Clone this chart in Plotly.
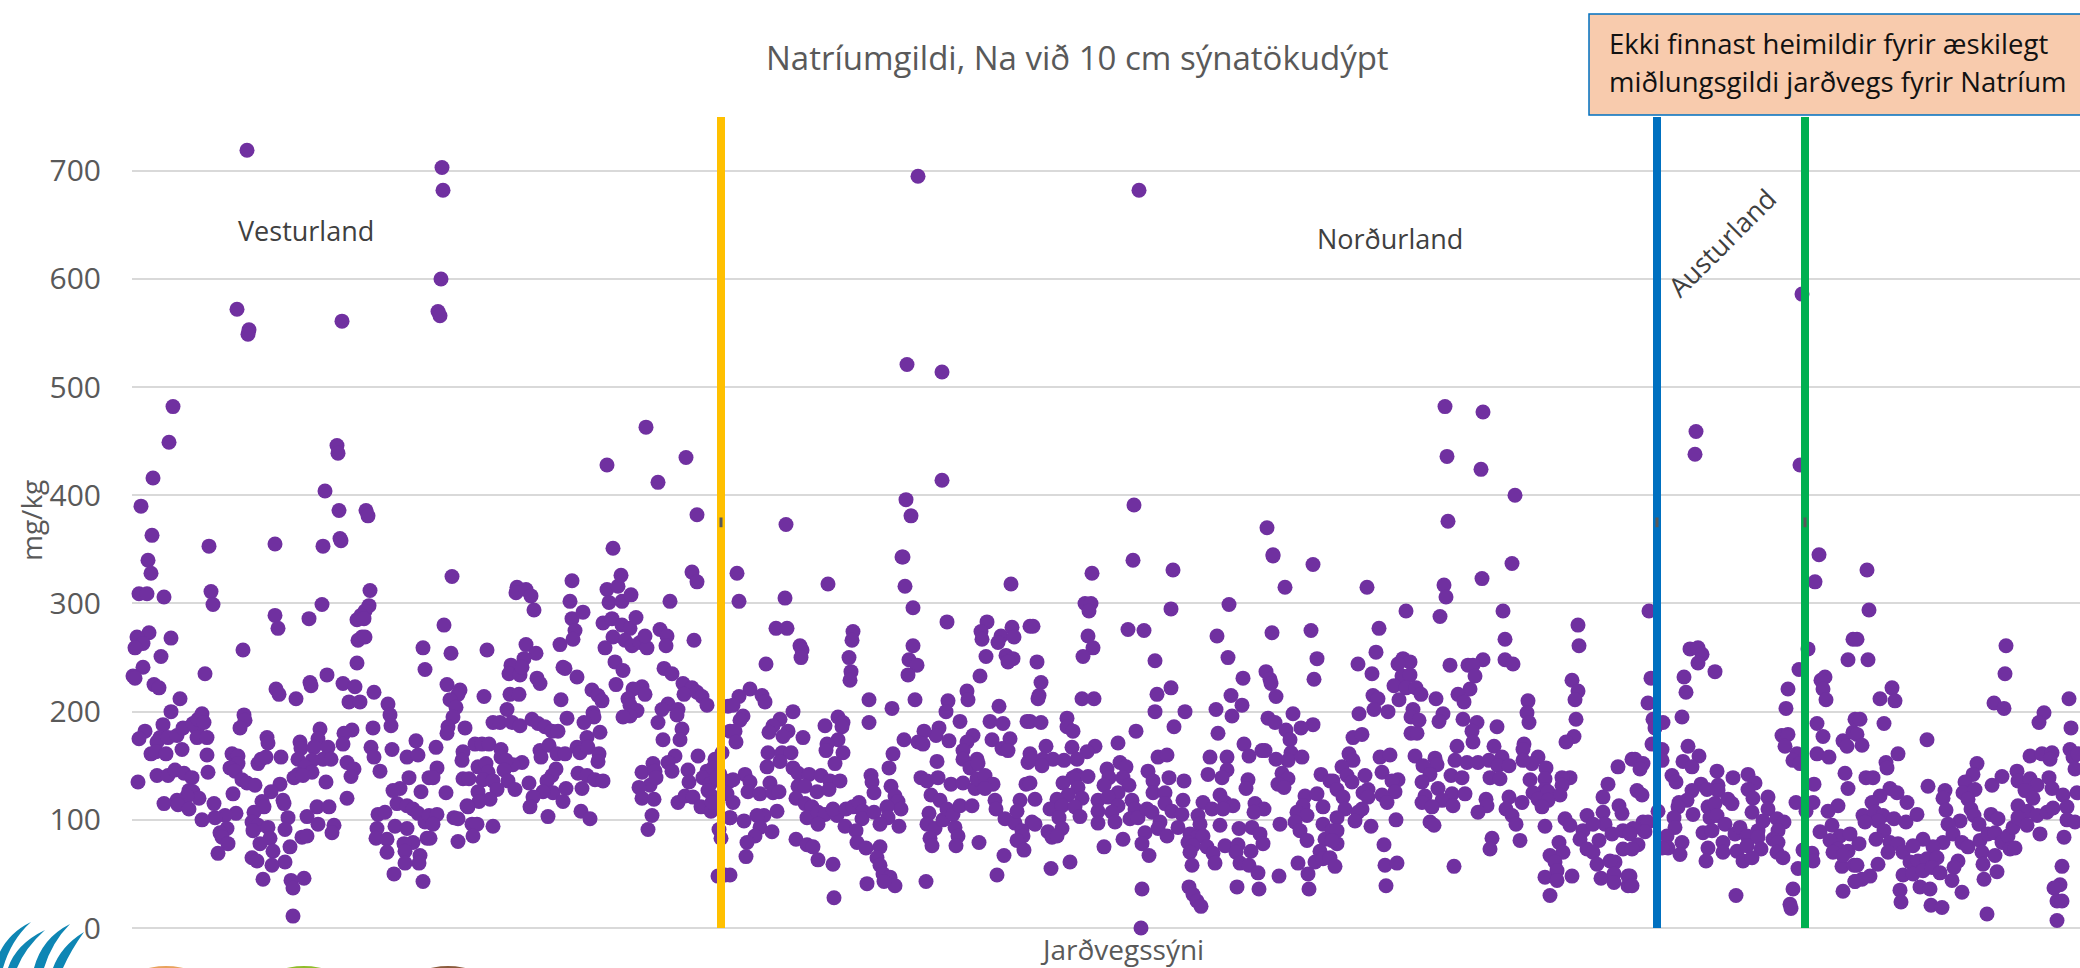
import plotly.graph_objects as go

chart_title = "Natríumgildi, Na við 10 cm sýnatökudýpt"
y_title = "mg/kg"
x_title = "Jarðvegssýni"
y_ticks = [0, 100, 200, 300, 400, 500, 600, 700]

# (sample position, Na mg/kg)
high_values = [(115,719),(310,703),(311,682),(309,600),(306,570),(308,566),(105,572),(117,553),(116,549),(210,561),
(41,482),(37,449),(21,416),(9,390),(20,363),(205,446),(206,439),(193,404),(207,386),(234,386),(236,381),(208,360),
(514,463),(526,412),(475,428),(554,435),(565,382),(320,325),
(786,695),(1007,682),(775,521),(810,514),(810,414),(774,396),(779,381),(654,373),(1002,391),(770,343),(1135,370),(1141,345),
(1313,482),(1351,477),(1315,436),(1349,424),(1316,376),(1383,400),(1564,459),(1563,438),(1670,586),(1668,428),(1380,337),(1350,323),(1312,317),(1314,306),(1308,288),(1274,293)]

panel_a = [(77,353),(143,355),(191,353),(209,358),(16,340),(19,328),(7,309),(15,309),(32,306),(79,311),(81,299),(238,312),(237,298),(233,293),(229,289),(225,285),(232,286),(190,299),(177,286),(143,289),(146,277),
(17,273),(5,269),(11,263),(3,259),(39,268),(29,251),(111,257),(11,241),(1,233),(3,231),(73,235),(22,225),(27,222),(230,269),(226,266),(233,269),(291,259),(293,239),(225,245),
(48,212),(39,200),(31,188),(13,182),(7,175),(28,176),(25,172),(36,176),(45,178),(51,185),(65,184),(61,189),(66,193),(70,198),(72,190),(65,176),(75,176),
(195,234),(211,226),(223,223),(178,227),(179,224),(144,221),(147,216),(164,212),(242,218),(217,209),(228,209),(256,207),(258,197),(259,187),
(112,197),(113,192),(108,185),(135,176),(136,171),(168,172),(169,166),(188,184),(186,175),(182,167),(196,167),(241,185),(220,183),(212,180),(211,170),(284,173),(260,165),(239,167),(242,158),(275,158),(286,160),
(19,161),(24,163),(34,161),(50,165),(75,160),(100,161),(106,159),(106,152),(98,148),(103,145),(126,152),(129,156),(134,158),(149,158),(166,156),(191,156),(199,156),(180,155),(173,149),(166,142),(180,144),(162,139),(171,141),(215,153),(222,147),(219,140),(248,145),
(6,135),(25,141),(36,141),(43,146),(52,143),(60,139),(76,144),(110,137),(115,134),(123,132),(148,133),(139,126),(194,135),(277,139),(297,139),(289,126),(268,129),(261,127),
(57,127),(61,126),(67,120),(55,122),(101,124),(130,117),(132,112),(151,118),(152,115),(215,120),(45,118),(32,115),(46,114),(57,110),(82,115),(265,115),(275,113),(281,110),(286,106),(246,105),(253,107),
(185,112),(197,112),(175,103),(156,102),(122,107),(104,106),(93,104),(83,102),(70,100),(120,98),(126,95),(136,93),(153,91),(186,96),(202,95),(200,88),(293,98),(297,104),
(95,92),(88,88),(90,84),(121,90),(138,83),(128,78),(96,78),(170,84),(175,85),(158,75),(141,71),(245,92),(244,83),(255,82),(263,94),(275,92),(281,79),(272,78),(273,71),(295,83),(255,70),(288,67),(287,60),(273,60),
(86,69),(120,65),(125,62),(153,61),(140,58),(262,50),(131,45),(172,46),(159,44),(161,37),(291,43),(161,11)]

panel_b = [(385,315),(384,310),(394,313),(399,307),(402,294),(440,321),(438,302),(440,286),(451,292),(443,275),(441,267),(428,262),(475,313),(486,316),(489,326),(481,351),(477,301),(490,302),(499,308),(538,302),(560,329),(565,320),
(312,280),(319,254),(355,257),(394,262),(404,254),(392,249),(379,243),(377,235),(388,234),(390,241),(471,282),(480,286),(490,280),(498,277),(504,287),(481,269),(493,266),(500,261),(508,264),(515,259),(513,270),(473,259),(528,276),(535,270),(534,261),(562,266),
(431,241),(433,240),(445,232),(483,246),(491,238),(532,240),(540,235),(484,225),(315,225),(405,231),(408,226),(328,220),(326,216),(318,211),(324,204),(321,195),(316,186),(315,180),(352,214),(378,216),(387,216),(429,211),(375,202),
(460,220),(466,215),(470,210),(510,223),(501,221),(513,216),(496,212),(498,206),(505,201),(498,196),(491,195),(461,199),(462,195),(452,190),(468,181),(435,194),(551,226),(560,222),(552,216),(565,218),(570,214),(575,206),(536,207),(530,202),(546,202),(545,197),(526,190),(550,184),(548,174),(531,174),
(361,190),(368,190),(380,190),(388,187),(400,193),(406,189),(413,186),(420,182),(426,182),(333,185),(304,167),(331,163),(343,170),(350,170),(357,170),(369,165),(369,158),(390,153),(381,151),(374,155),(408,164),(409,158),(417,169),(425,161),(433,161),(445,167),(448,162),(455,176),(456,167),(467,161),(466,154),
(330,155),(305,148),(301,139),(346,149),(354,152),(356,144),(351,137),(331,138),(337,138),(372,146),(424,147),(420,141),(415,136),(446,143),(455,141),(463,137),(471,136),(361,136),(376,136),(397,134),(383,128),(365,128),(346,126),(358,119),(347,117),(314,125),(421,125),(411,126),(401,121),(434,129),(450,129),(431,117),(398,112),
(336,112),(335,113),(305,105),(416,103),(449,108),(458,101),(322,102),(326,101),(340,96),(345,96),(361,94),(301,96),(341,85),(326,80),(298,83),(566,159),(543,159),(536,153),(521,152),(510,144),(523,145),(540,145),(556,146),(518,132),(507,130),(524,139),(557,135),(510,120),(522,119),(546,116),(553,122),(561,121),(569,112),(579,108),(520,104),(516,91),
(575,145),(571,139),(578,133),(583,156),(590,162),(581,148),(576,127),(581,121),(588,142),(585,139),(598,136),(595,124),(580,116),(587,91),(589,83),(586,48),(593,49),(596,205),(598,182),(598,102)]

panel_c = [(605,328),(607,302),(653,305),(696,318),(771,343),(773,316),(781,296),(879,318),(644,277),(655,277),(668,261),(670,257),(669,250),(634,244),(721,274),(720,266),(717,250),(719,237),(718,229),(781,261),(777,248),(785,243),(776,234),(815,283),
(855,283),(849,274),(850,267),(869,270),(866,264),(880,278),(882,269),(898,279),(854,251),(874,252),(881,249),(876,246),(848,233),(618,221),(607,214),(601,206),(630,215),(633,209),(611,196),(608,192),(603,182),(604,172),
(661,200),(648,193),(641,187),(637,181),(656,182),(651,177),(671,176),(693,187),(706,195),(711,190),(710,186),(706,174),(695,170),(694,164),(711,162),(737,211),(737,190),(760,203),(783,211),(772,174),(761,161),(757,148),
(816,210),(814,200),(835,219),(836,211),(828,191),(807,185),(804,178),(792,182),(786,172),(791,170),(817,173),(805,154),(867,205),(858,191),(871,189),(860,174),(878,175),(841,178),(835,172),(831,164),(870,166),(876,164),(895,191),
(636,162),(650,162),(659,162),(648,154),(635,149),(661,148),(666,143),(677,142),(689,141),(703,152),(845,156),(831,156),(838,148),(846,152),(898,161),(896,153),(613,142),(601,137),(618,135),(638,134),(616,126),(628,124),(641,125),(647,126),(666,131),(673,131),(685,126),(698,136),(708,136),(697,128),(664,120),
(739,141),(740,135),(742,125),(759,131),(763,122),(766,117),(769,110),(789,139),(795,136),(806,139),(819,133),(831,134),(843,129),(845,138),(853,141),(861,133),(853,129),(894,133),(799,123),(808,118),
(601,116),(598,102),(645,108),(632,104),(625,104),(612,99),(628,93),(623,85),(615,79),(640,89),(614,66),(673,115),(680,112),(675,102),(686,107),(693,105),(686,96),(705,104),(701,110),(714,110),(721,112),(727,116),(731,108),(730,101),(742,107),(755,112),(756,102),(748,96),(713,94),(724,90),(767,94),
(725,79),(734,74),(748,75),(745,65),(748,58),(751,50),(758,47),(763,39),(752,43),(735,41),(794,43),(664,82),(675,77),(681,75),(686,63),(701,59),(702,28),(797,106),(795,96),(803,92),(798,83),(800,76),(811,100),(815,110),(821,105),(828,113),(840,113),(823,93),(826,85),(824,76),(847,79),
(863,118),(864,110),(873,101),(883,97),(888,118),(885,108),(900,98),(890,90),(891,85),(885,81),(892,72),(872,67),(865,49),(598,49)]

panel_d = [(960,328),(1001,340),(1041,331),(1141,344),(1181,336),(1153,315),(953,300),(959,300),(957,293),(1039,295),(1097,299),(901,279),(956,270),(961,259),(951,251),(996,276),(1012,275),(1085,270),(1140,273),(1179,275),(1096,250),(1185,249),
(905,246),(909,227),(907,215),(906,212),(950,212),(962,212),(1023,247),(1182,230),(1134,237),(1138,230),(1139,226),(1144,214),(1111,231),(1099,215),(1110,206),(1100,196),(1084,202),(1025,216),(1039,222),(1023,200),(1053,200),(1042,186),(1004,182),(1086,180),(1161,198),(1136,194),(1143,190),(1181,188),(1169,185),(1154,183),(1158,174),
(898,191),(909,190),(935,194),(935,186),(941,182),(986,171),(914,168),(940,167),(963,168),(955,163),(945,156),(900,156),(911,156),(921,156),(932,155),(910,150),(1026,158),(1035,160),(1078,158),(1095,158),(1112,170),(1117,159),(1130,164),(1133,164),(1144,156),(1159,162),(1156,155),(1170,158),
(988,153),(994,149),(975,147),(1016,145),(945,141),(956,140),(941,139),(931,134),(977,139),(991,139),(1037,139),(1052,136),(1076,142),(1095,146),(1090,139),(1116,137),(1114,129),(1150,143),(1156,138),(1146,133),(1152,130),(1189,142),(1198,136),(1021,136),(1021,125),
(898,134),(972,132),(997,132),(946,130),(986,125),(936,123),(925,119),(918,110),(950,120),(903,119),(930,113),(943,112),(948,103),(966,118),(976,121),(986,113),(966,108),(980,107),(966,97),(983,98),(1000,118),(1003,110),(998,101),(1006,102),(1015,110),(1020,107),(1033,125),(1033,115),(1051,118),(1040,108),(1050,105),
(927,102),(903,96),(930,92),(916,89),(920,84),(925,85),(1028,98),(1026,92),(1035,85),(1046,93),(1013,88),(1010,78),(991,82),(972,75),(1071,116),(1080,110),(1066,104),(1088,123),(1093,116),(1101,113),(1091,110),(1123,115),(1132,110),(1122,107),(1173,122),(1185,124),(1171,113),(1165,107),(1175,104),(1191,112),(1163,98),(1148,96),(1191,96),
(1068,96),(1058,87),(1065,84),(1071,85),(1056,79),(1061,76),(1075,75),(1058,70),(1081,69),(1088,95),(1107,92),(1120,93),(1128,87),(1131,78),(1093,76),(1106,77),(1104,70),(1119,71),(1108,60),(1117,58),(1126,51),(1083,60),(1060,58),
(1168,90),(1175,81),(1193,82),(1188,71),(1183,61),(1191,64),(1166,60),(1176,50),(1147,48),(1177,36),(1127,36),(1105,38),(1017,67),(1010,36),(1009,0),(938,61),(919,55),(1057,38),(1061,31),(1065,25),(1069,20)]

panel_e = [(1235,315),(1371,293),(1373,267),(1247,277),(1244,255),(1226,244),(1240,235),(1446,280),(1447,261),(1440,229),(1446,219),(1443,211),(1444,193),(1442,177),(1434,172),(1373,248),(1381,244),(1351,248),(1336,243),(1341,243),(1318,243),(1271,249),(1278,246),(1266,244),(1270,233),(1278,234),(1343,233),(1338,221),(1326,216),(1332,209),(1304,212),(1262,224),(1274,222),(1284,222),(1289,216),(1267,211),(1241,215),(1246,212),(1242,202),(1256,200),(1227,198),(1281,202),(1279,195),(1287,192),(1311,198),(1307,191),(1331,193),(1345,190),(1340,182),(1365,186),(1341,172),(1396,210),(1395,199),(1397,190),(1279,180),(1285,180),(1221,176),(1230,179),
(1392,170),(1391,165),(1362,168),(1325,168),(1406,158),(1400,152),(1391,155),(1323,155),(1335,153),(1346,153),(1357,155),(1370,158),(1366,150),(1377,150),(1217,161),(1221,155),(1248,158),(1258,160),(1283,159),(1303,157),(1305,151),(1291,150),(1210,149),(1215,141),(1220,135),(1233,141),(1250,144),(1298,142),(1414,148),(1438,139),(1430,139),(1398,137),(1413,138),(1319,141),(1330,139),(1358,139),(1368,138),
(1201,136),(1266,137),(1260,136),(1290,135),(1430,132),(1413,128),(1306,129),(1263,126),(1236,128),(1231,125),(1205,128),(1211,121),(1250,123),(1236,121),(1320,124),(1333,124),(1401,125),(1416,126),(1428,123),(1293,122),(1406,119),(1416,118),(1255,116),(1310,118),(1290,116),(1377,121),(1390,116),(1354,119),(1410,112),(1321,113),(1355,113),(1346,107),(1374,110),(1380,104),(1300,112),
(1213,110),(1230,110),(1226,107),(1223,99),(1205,102),(1239,94),(1264,100),(1298,98),(1302,95),(1384,96),(1413,94),(1433,101),(1438,95),(1200,90),(1205,90),(1205,78),(1200,81),(1252,77),(1360,83),(1358,73),(1388,81),(1253,58),(1265,60),(1198,65),(1203,57),(1254,39),(1322,57),
(1455,104),(1471,107),(1476,133),(1471,121),(1486,149),(1487,113),(1490,106),(1473,96),(1451,90),(1461,96),(1448,82),(1491,90),(1480,87),(1467,81),(1455,73),(1461,70),(1491,73),(1465,59),(1483,61),(1478,62),(1427,79),(1418,67),(1431,70),(1423,61),(1425,53),(1413,47),(1425,44),(1440,48),(1418,30),(1469,46),(1482,50),(1482,42),(1496,39),(1496,48),(1500,156)]

panel_f = [(1517,293),(1519,231),(1516,208),(1521,193),(1531,190),(1523,185),(1520,170),(1530,165),(1530,155),(1503,156),(1511,152),(1508,147),(1505,127),(1510,123),(1526,108),(1511,98),(1516,98),(1513,89),(1501,92),(1498,87),(1506,77),(1500,73),(1498,48),(1500,39),
(1558,258),(1566,259),(1570,253),(1566,245),(1552,232),(1554,218),(1583,237),(1550,195),(1556,168),(1567,159),(1551,154),(1560,149),(1540,141),(1544,135),(1585,145),(1601,139),(1616,142),(1623,134),(1616,128),(1586,132),(1586,127),(1569,133),(1575,128),(1560,127),(1555,118),(1547,116),(1546,112),(1561,105),(1542,102),(1543,93),(1535,85),(1536,74),(1550,79),(1548,68),(1530,74),
(1576,112),(1583,115),(1596,119),(1600,115),(1578,102),(1585,104),(1621,120),(1636,121),(1620,107),(1636,110),(1593,96),(1571,88),(1580,90),(1603,87),(1608,93),(1615,85),(1626,90),(1631,99),(1645,101),(1652,98),(1646,90),(1641,82),(1626,84),(1591,79),(1576,74),(1591,70),(1605,71),(1615,76),(1629,73),(1646,79),(1645,70),(1574,62),(1611,62),(1620,65),(1651,65),(1604,30),
(1656,221),(1654,203),(1667,239),(1676,258),(1650,178),(1656,179),(1653,168),(1665,161),(1661,155),(1668,152),(1664,116),(1674,108),(1681,116),(1682,133),(1685,161),(1671,72),(1680,69),(1681,62),(1666,55),(1661,36),(1658,22),(1659,18),(1687,345),(1683,320),
(1693,232),(1689,229),(1691,221),(1694,211),(1716,248),(1721,267),(1685,189),(1691,177),(1697,158),(1711,173),(1715,168),(1721,181),(1723,193),(1713,143),(1716,129),(1706,113),(1696,108),(1688,89),(1700,95),(1708,85),(1698,81),(1706,73),(1701,70),(1718,87),(1716,71),(1710,57),(1711,34),(1723,43),(1722,58),(1711,67)]

panel_g = [(1735,331),(1737,294),(1736,248),(1725,267),(1748,212),(1760,222),(1763,210),(1728,193),(1752,189),(1725,179),(1730,169),(1766,161),(1754,153),(1755,148),(1734,139),(1741,139),(1795,174),(1796,131),(1758,129),(1765,125),(1748,122),(1740,116),(1775,116),(1731,104),(1743,107),(1751,104),(1762,101),(1774,98),(1785,105),(1746,99),(1733,98),(1752,90),(1744,82),(1727,78),(1758,79),(1766,78),(1756,70),(1771,70),(1746,59),(1725,58),(1738,48),(1730,45),(1723,43),
(1813,127),(1811,120),(1814,109),(1845,152),(1841,142),(1833,135),(1831,125),(1843,128),(1836,119),(1839,110),(1842,104),(1847,96),(1860,132),(1870,140),(1859,105),(1866,101),(1828,99),(1816,96),(1821,87),(1811,79),(1801,75),(1791,82),(1781,76),(1830,79),(1836,75),(1848,81),(1856,87),(1863,88),(1850,70),(1863,67),(1870,79),(1876,85),(1881,93),(1878,73),(1883,74),
(1778,61),(1786,62),(1795,64),(1805,65),(1826,62),(1822,56),(1851,59),(1865,52),(1852,45),(1771,49),(1781,50),(1791,53),(1800,56),(1808,51),(1820,44),(1788,38),(1798,36),(1768,35),(1769,24),(1830,33),(1799,21),(1810,19),(1855,13),(1873,235),(1874,261),(1862,208),(1872,203),
(1885,145),(1886,136),(1898,138),(1905,132),(1893,127),(1901,120),(1886,113),(1896,108),(1886,102),(1905,104),(1895,95),(1908,87),(1915,107),(1921,111),(1917,139),(1920,129),(1931,123),(1935,112),(1935,100),(1943,98),(1945,125),(1932,84),(1950,82),(1950,74),(1930,57),(1928,40),(1922,37),(1925,25),(1930,25),(1925,7),
(1912,199),(1907,190),(1898,159),(1910,161),(1920,162),(1918,156),(1938,165),(1941,158),(1943,147),(1946,161),(1937,212),(1939,185)]

region_breaks = [589, 1525, 1673]
region_break_colors = ["#FFC000", "#0070C0", "#00B050"]
break_marker_value = 375

all_points = high_values + panel_a + panel_b + panel_c + panel_d + panel_e + panel_f + panel_g
sample_x = [p[0] for p in all_points]
sodium = [p[1] for p in all_points]

W, H = 2080, 968
L, R, T, B = 132, 2080, 117, 928
def px(x): return (x - L) / (R - L)
def py(y): return (B - y) / (B - T)

fig = go.Figure(go.Scatter(x=sample_x, y=sodium, mode="markers", cliponaxis=False,
                           marker=dict(color="#7030A0", size=15, line=dict(width=0)), hoverinfo="skip"))

shapes = []
for xb, col in zip(region_breaks, region_break_colors):
    shapes.append(dict(type="line", xref="x", yref="paper", x0=xb, x1=xb, y0=0, y1=1, line=dict(color=col, width=8)))
    shapes.append(dict(type="line", xref="x", yref="y", x0=xb, x1=xb, y0=break_marker_value-4.5, y1=break_marker_value+4.5,
                       line=dict(color="#595959", width=3)))
shapes.append(dict(type="rect", xref="paper", yref="paper", x0=px(1589), x1=px(2090), y0=py(115), y1=py(14),
                   fillcolor="#F8CBAD", line=dict(color="#0070C0", width=1.5)))

def swoosh(tx, ty, b1, b2):
    p = f"M {px(tx)} {py(ty)} Q {px(b1+8)} {py(ty+14)} {px(b1)} {py(968)} L {px(b2)} {py(968)} Q {px(b2+8)} {py(ty+18)} {px(tx)} {py(ty)} Z"
    return dict(type="path", xref="paper", yref="paper", path=p, fillcolor="#0E86B4", line=dict(width=0))
for t in [(31,922,-6,3),(45,930,8,17),(70,924,34,44),(84,932,53,63)]:
    shapes.append(swoosh(*t))
for cx, col in [(166,"#E8A25C"),(304,"#8FBC2A"),(448,"#8A5B3C")]:
    shapes.append(dict(type="circle", xref="paper", yref="paper", x0=px(cx-75), x1=px(cx+75), y0=py(966+150), y1=py(966),
                       fillcolor=col, line=dict(width=0)))

def note(text, x, y, size, color="#595959", xanchor="center", angle=0):
    return dict(text=text, xref="paper", yref="paper", x=px(x), y=py(y), xanchor=xanchor, yanchor="middle",
                showarrow=False, textangle=angle, font=dict(family="Open Sans", size=size, color=color))

annotations = [
    note(chart_title, 1077, 58, 33),
    note(x_title, 1122, 949, 28),
    note(y_title, 31, 521, 28, angle=-90),
    note("Vesturland", 306, 230, 27, "#404040"),
    note("Norðurland", 1390, 238, 27, "#404040"),
    note("Austurland", 1722, 243, 27, "#404040", angle=-45),
    note("Ekki finnast heimildir fyrir æskilegt", 1607, 43, 27.5, "#111111", "left"),
    note("miðlungsgildi jarðvegs fyrir Natríum", 1607, 81, 27.5, "#111111", "left"),
]

fig.update_layout(
    width=W, height=H, margin=dict(l=L, r=W-R, t=T, b=H-B, pad=0),
    paper_bgcolor="white", plot_bgcolor="white", showlegend=False,
    font=dict(family="Open Sans", color="#595959"),
    shapes=shapes, annotations=annotations,
    xaxis=dict(range=[0, R-L], visible=False, showgrid=False, zeroline=False),
    yaxis=dict(range=[0, (B-T)/1.0817], tickmode="array", tickvals=y_ticks, ticks="outside", ticklen=24,
               tickcolor="rgba(0,0,0,0)", tickfont=dict(size=30, color="#595959"),
               showgrid=True, gridcolor="#D9D9D9", gridwidth=1.5, zeroline=True, zerolinecolor="#D9D9D9", zerolinewidth=1.5,
               showline=False),
)

fig.write_html("out.html", config=dict(displayModeBar=False),
               post_script="document.body.style.margin='0';document.documentElement.style.overflow='hidden';")
